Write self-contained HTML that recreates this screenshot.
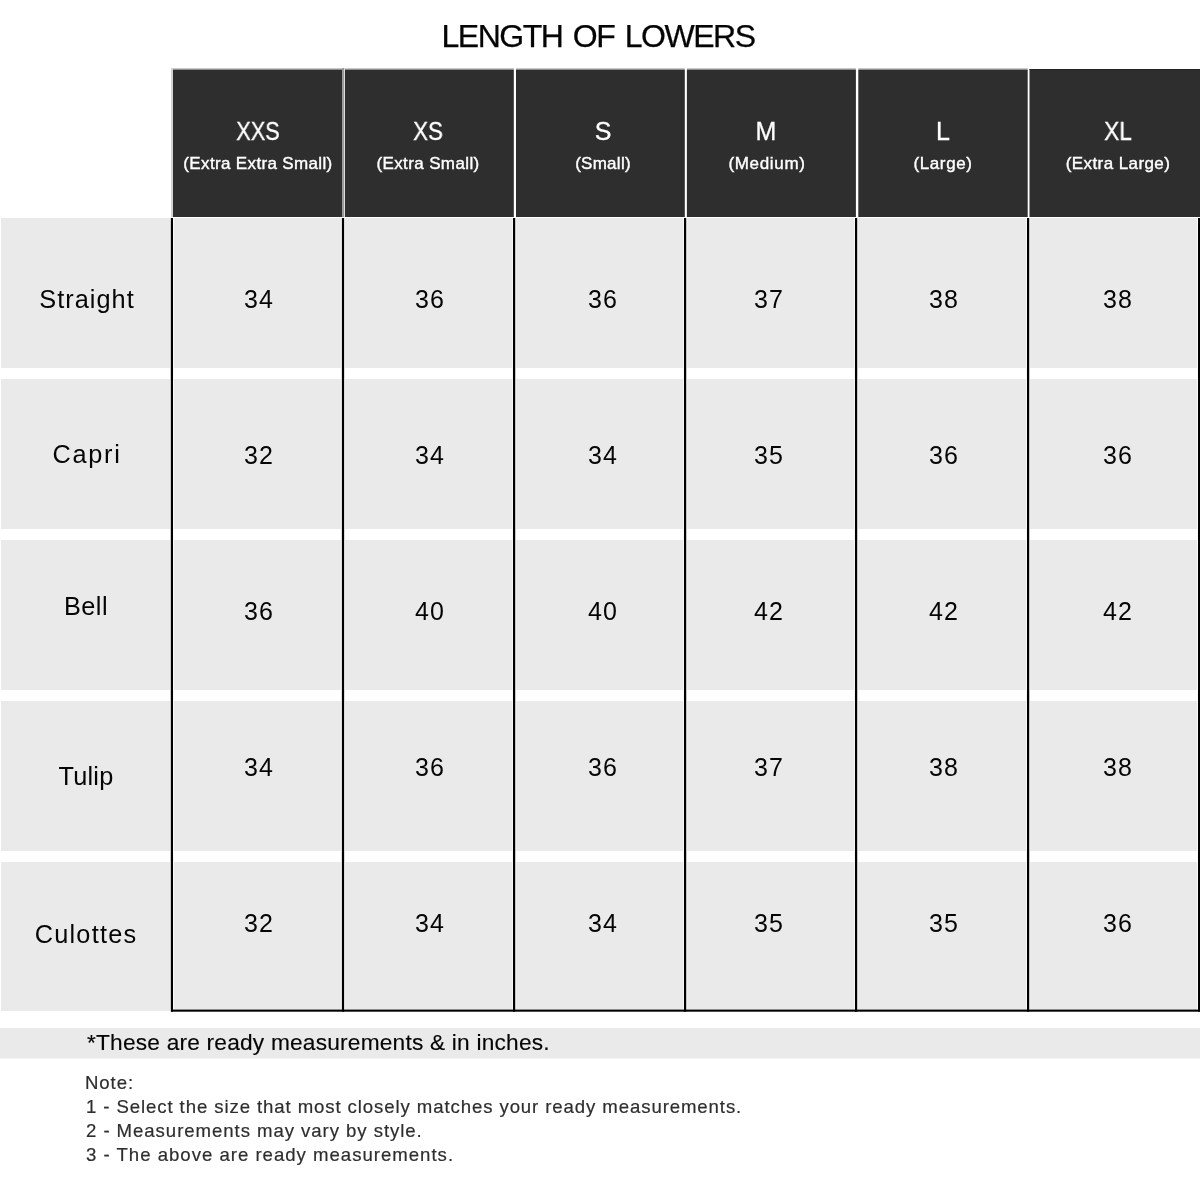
<!DOCTYPE html>
<html lang="en"><head><meta charset="utf-8"><title>Length of Lowers</title>
<style>
html,body{margin:0;padding:0;background:#fff;}
body{width:1200px;height:1200px;position:relative;overflow:hidden;font-family:"Liberation Sans", Arial, sans-serif;}
.t{position:absolute;white-space:nowrap;will-change:transform;}
</style></head><body>
<svg width="1200" height="1200" viewBox="0 0 1200 1200" style="position:absolute;left:0;top:0"><rect x="173" y="70" width="169" height="147" fill="#2e2e2e"/><rect x="173" y="68" width="169" height="1" fill="#c8c8c8"/><rect x="173" y="69" width="169" height="1" fill="#8e8e8e"/><rect x="345" y="70" width="168.8" height="147" fill="#2e2e2e"/><rect x="345" y="68" width="168.8" height="1" fill="#c8c8c8"/><rect x="345" y="69" width="168.8" height="1" fill="#8e8e8e"/><rect x="516" y="70" width="168.8" height="147" fill="#2e2e2e"/><rect x="516" y="68" width="168.8" height="1" fill="#c8c8c8"/><rect x="516" y="69" width="168.8" height="1" fill="#8e8e8e"/><rect x="686.9" y="70" width="169" height="147" fill="#2e2e2e"/><rect x="686.9" y="68" width="169" height="1" fill="#c8c8c8"/><rect x="686.9" y="69" width="169" height="1" fill="#8e8e8e"/><rect x="858.3" y="70" width="169.4" height="147" fill="#2e2e2e"/><rect x="858.3" y="68" width="169.4" height="1" fill="#c8c8c8"/><rect x="858.3" y="69" width="169.4" height="1" fill="#8e8e8e"/><rect x="1029.5" y="69" width="170.5" height="148" fill="#2e2e2e"/><rect x="1029.5" y="69" width="170.5" height="1" fill="#222"/><rect x="171" y="68" width="2" height="149" fill="#d2d2d2"/><rect x="342" y="68" width="2" height="149" fill="#9a9a9a"/><rect x="344" y="68" width="1" height="149" fill="#dcdcdc"/><rect x="1" y="218" width="169" height="150" fill="#eaeaea"/><rect x="173" y="218" width="1024" height="150" fill="#eaeaea"/><rect x="1" y="379" width="169" height="150" fill="#eaeaea"/><rect x="173" y="379" width="1024" height="150" fill="#eaeaea"/><rect x="1" y="540" width="169" height="150" fill="#eaeaea"/><rect x="173" y="540" width="1024" height="150" fill="#eaeaea"/><rect x="1" y="701" width="169" height="150" fill="#eaeaea"/><rect x="173" y="701" width="1024" height="150" fill="#eaeaea"/><rect x="1" y="862" width="169" height="149" fill="#eaeaea"/><rect x="173" y="862" width="1024" height="149" fill="#eaeaea"/><rect x="340.9" y="218" width="4.2" height="793.7" fill="#f7f7f7"/><rect x="512" y="218" width="4.2" height="793.7" fill="#f7f7f7"/><rect x="683" y="218" width="4.2" height="793.7" fill="#f7f7f7"/><rect x="854" y="218" width="4.2" height="793.7" fill="#f7f7f7"/><rect x="1026" y="218" width="4.2" height="793.7" fill="#f7f7f7"/><rect x="170" y="218" width="1" height="793.7" fill="#ffffff"/><rect x="173" y="218" width="1" height="793.7" fill="#f9f9f9"/><rect x="1197" y="218" width="1" height="793.7" fill="#fbfbfb"/><rect x="170.8" y="218" width="2.2" height="793.7" fill="#000"/><rect x="341.9" y="218" width="2.2" height="793.7" fill="#000"/><rect x="513" y="218" width="2.2" height="793.7" fill="#000"/><rect x="684" y="218" width="2.2" height="793.7" fill="#000"/><rect x="855" y="218" width="2.2" height="793.7" fill="#000"/><rect x="1027" y="218" width="2.2" height="793.7" fill="#000"/><rect x="1198" y="218" width="2" height="793.7" fill="#000"/><rect x="171" y="1009.6" width="1029" height="2.1" fill="#000"/><rect x="0" y="1028" width="1200" height="30.5" fill="#eaeaea"/></svg>
<div class="t" style="left:598.25px;top:20.31px;font-size:32px;line-height:32px;color:#050505;letter-spacing:-1.5px;word-spacing:3.15px;-webkit-text-stroke:0.25px #050505;transform:translateX(-50%);">LENGTH OF LOWERS</div>
<div class="t" style="left:258.20px;top:118.53px;font-size:25px;line-height:25px;color:#fff;-webkit-text-stroke:0.3px #fff;transform:translateX(-50%) scaleX(0.87);">XXS</div>
<div class="t" style="left:258.38px;top:155.21px;font-size:17px;line-height:17px;color:#fff;letter-spacing:0.35px;-webkit-text-stroke:0.4px #fff;transform:translateX(-50%);">(Extra Extra Small)</div>
<div class="t" style="left:427.50px;top:118.53px;font-size:25px;line-height:25px;color:#fff;-webkit-text-stroke:0.3px #fff;transform:translateX(-50%) scaleX(0.89);">XS</div>
<div class="t" style="left:427.69px;top:155.21px;font-size:17px;line-height:17px;color:#fff;letter-spacing:0.38px;-webkit-text-stroke:0.4px #fff;transform:translateX(-50%);">(Extra Small)</div>
<div class="t" style="left:602.50px;top:118.53px;font-size:25px;line-height:25px;color:#fff;-webkit-text-stroke:0.3px #fff;transform:translateX(-50%);">S</div>
<div class="t" style="left:602.63px;top:155.21px;font-size:17px;line-height:17px;color:#fff;letter-spacing:0.27px;-webkit-text-stroke:0.4px #fff;transform:translateX(-50%);">(Small)</div>
<div class="t" style="left:766.20px;top:118.53px;font-size:25px;line-height:25px;color:#fff;-webkit-text-stroke:0.3px #fff;transform:translateX(-50%);">M</div>
<div class="t" style="left:766.53px;top:155.21px;font-size:17px;line-height:17px;color:#fff;letter-spacing:0.66px;-webkit-text-stroke:0.4px #fff;transform:translateX(-50%);">(Medium)</div>
<div class="t" style="left:942.60px;top:118.53px;font-size:25px;line-height:25px;color:#fff;-webkit-text-stroke:0.3px #fff;transform:translateX(-50%);">L</div>
<div class="t" style="left:942.92px;top:155.21px;font-size:17px;line-height:17px;color:#fff;letter-spacing:0.63px;-webkit-text-stroke:0.4px #fff;transform:translateX(-50%);">(Large)</div>
<div class="t" style="left:1118.20px;top:118.53px;font-size:25px;line-height:25px;color:#fff;-webkit-text-stroke:0.3px #fff;transform:translateX(-50%) scaleX(0.907);">XL</div>
<div class="t" style="left:1118.41px;top:155.21px;font-size:17px;line-height:17px;color:#fff;letter-spacing:0.42px;-webkit-text-stroke:0.4px #fff;transform:translateX(-50%);">(Extra Large)</div>
<div class="t" style="left:86.72px;top:286.58px;font-size:25.3px;line-height:25.3px;color:#050505;letter-spacing:1.03px;transform:translateX(-50%);">Straight</div>
<div class="t" style="left:86.78px;top:442.08px;font-size:25.3px;line-height:25.3px;color:#050505;letter-spacing:1.75px;transform:translateX(-50%);">Capri</div>
<div class="t" style="left:86.25px;top:593.78px;font-size:25.3px;line-height:25.3px;color:#050505;letter-spacing:0.5px;transform:translateX(-50%);">Bell</div>
<div class="t" style="left:86.41px;top:764.18px;font-size:25.3px;line-height:25.3px;color:#050505;letter-spacing:0.22px;transform:translateX(-50%);">Tulip</div>
<div class="t" style="left:86.41px;top:922.38px;font-size:25.3px;line-height:25.3px;color:#050505;letter-spacing:1.23px;transform:translateX(-50%);">Culottes</div>
<div class="t" style="left:258.90px;top:286.53px;font-size:25px;line-height:25px;color:#050505;letter-spacing:1.0px;transform:translateX(-50%);">34</div>
<div class="t" style="left:429.80px;top:286.53px;font-size:25px;line-height:25px;color:#050505;letter-spacing:1.0px;transform:translateX(-50%);">36</div>
<div class="t" style="left:602.80px;top:286.53px;font-size:25px;line-height:25px;color:#050505;letter-spacing:1.0px;transform:translateX(-50%);">36</div>
<div class="t" style="left:769.30px;top:286.53px;font-size:25px;line-height:25px;color:#050505;letter-spacing:1.0px;transform:translateX(-50%);">37</div>
<div class="t" style="left:943.50px;top:286.53px;font-size:25px;line-height:25px;color:#050505;letter-spacing:1.0px;transform:translateX(-50%);">38</div>
<div class="t" style="left:1117.50px;top:286.53px;font-size:25px;line-height:25px;color:#050505;letter-spacing:1.0px;transform:translateX(-50%);">38</div>
<div class="t" style="left:258.90px;top:442.83px;font-size:25px;line-height:25px;color:#050505;letter-spacing:1.0px;transform:translateX(-50%);">32</div>
<div class="t" style="left:429.80px;top:442.83px;font-size:25px;line-height:25px;color:#050505;letter-spacing:1.0px;transform:translateX(-50%);">34</div>
<div class="t" style="left:602.80px;top:442.83px;font-size:25px;line-height:25px;color:#050505;letter-spacing:1.0px;transform:translateX(-50%);">34</div>
<div class="t" style="left:769.30px;top:442.83px;font-size:25px;line-height:25px;color:#050505;letter-spacing:1.0px;transform:translateX(-50%);">35</div>
<div class="t" style="left:943.50px;top:442.83px;font-size:25px;line-height:25px;color:#050505;letter-spacing:1.0px;transform:translateX(-50%);">36</div>
<div class="t" style="left:1117.50px;top:442.83px;font-size:25px;line-height:25px;color:#050505;letter-spacing:1.0px;transform:translateX(-50%);">36</div>
<div class="t" style="left:258.90px;top:598.53px;font-size:25px;line-height:25px;color:#050505;letter-spacing:1.0px;transform:translateX(-50%);">36</div>
<div class="t" style="left:429.80px;top:598.53px;font-size:25px;line-height:25px;color:#050505;letter-spacing:1.0px;transform:translateX(-50%);">40</div>
<div class="t" style="left:602.80px;top:598.53px;font-size:25px;line-height:25px;color:#050505;letter-spacing:1.0px;transform:translateX(-50%);">40</div>
<div class="t" style="left:769.30px;top:598.53px;font-size:25px;line-height:25px;color:#050505;letter-spacing:1.0px;transform:translateX(-50%);">42</div>
<div class="t" style="left:943.50px;top:598.53px;font-size:25px;line-height:25px;color:#050505;letter-spacing:1.0px;transform:translateX(-50%);">42</div>
<div class="t" style="left:1117.50px;top:598.53px;font-size:25px;line-height:25px;color:#050505;letter-spacing:1.0px;transform:translateX(-50%);">42</div>
<div class="t" style="left:258.90px;top:754.63px;font-size:25px;line-height:25px;color:#050505;letter-spacing:1.0px;transform:translateX(-50%);">34</div>
<div class="t" style="left:429.80px;top:754.63px;font-size:25px;line-height:25px;color:#050505;letter-spacing:1.0px;transform:translateX(-50%);">36</div>
<div class="t" style="left:602.80px;top:754.63px;font-size:25px;line-height:25px;color:#050505;letter-spacing:1.0px;transform:translateX(-50%);">36</div>
<div class="t" style="left:769.30px;top:754.63px;font-size:25px;line-height:25px;color:#050505;letter-spacing:1.0px;transform:translateX(-50%);">37</div>
<div class="t" style="left:943.50px;top:754.63px;font-size:25px;line-height:25px;color:#050505;letter-spacing:1.0px;transform:translateX(-50%);">38</div>
<div class="t" style="left:1117.50px;top:754.63px;font-size:25px;line-height:25px;color:#050505;letter-spacing:1.0px;transform:translateX(-50%);">38</div>
<div class="t" style="left:258.90px;top:910.83px;font-size:25px;line-height:25px;color:#050505;letter-spacing:1.0px;transform:translateX(-50%);">32</div>
<div class="t" style="left:429.80px;top:910.83px;font-size:25px;line-height:25px;color:#050505;letter-spacing:1.0px;transform:translateX(-50%);">34</div>
<div class="t" style="left:602.80px;top:910.83px;font-size:25px;line-height:25px;color:#050505;letter-spacing:1.0px;transform:translateX(-50%);">34</div>
<div class="t" style="left:769.30px;top:910.83px;font-size:25px;line-height:25px;color:#050505;letter-spacing:1.0px;transform:translateX(-50%);">35</div>
<div class="t" style="left:943.50px;top:910.83px;font-size:25px;line-height:25px;color:#050505;letter-spacing:1.0px;transform:translateX(-50%);">35</div>
<div class="t" style="left:1117.50px;top:910.83px;font-size:25px;line-height:25px;color:#050505;letter-spacing:1.0px;transform:translateX(-50%);">36</div>
<div class="t" style="left:87.30px;top:1031.38px;font-size:22.7px;line-height:22.7px;color:#050505;letter-spacing:0.21px;-webkit-text-stroke:0.15px #050505;">*These are ready measurements &amp; in inches.</div>
<div class="t" style="left:85.30px;top:1074.05px;font-size:18.6px;line-height:18.6px;color:#2e2e2e;letter-spacing:0.9px;-webkit-text-stroke:0.2px #2e2e2e;">Note:</div>
<div class="t" style="left:85.50px;top:1098.05px;font-size:18.6px;line-height:18.6px;color:#2e2e2e;letter-spacing:0.9px;-webkit-text-stroke:0.2px #2e2e2e;">1 - Select the size that most closely matches your ready measurements.</div>
<div class="t" style="left:86.00px;top:1122.25px;font-size:18.6px;line-height:18.6px;color:#2e2e2e;letter-spacing:0.94px;-webkit-text-stroke:0.2px #2e2e2e;">2 - Measurements may vary by style.</div>
<div class="t" style="left:86.00px;top:1146.05px;font-size:18.6px;line-height:18.6px;color:#2e2e2e;letter-spacing:0.99px;-webkit-text-stroke:0.2px #2e2e2e;">3 - The above are ready measurements.</div>
</body></html>
